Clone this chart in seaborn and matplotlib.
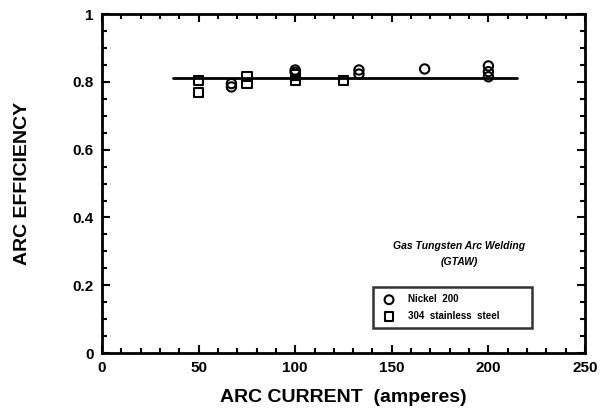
import numpy as np
import pandas as pd
import matplotlib
matplotlib.use("Agg")
import matplotlib.pyplot as plt
from matplotlib.ticker import MultipleLocator
import seaborn as sns

# data
nickel_current = [67, 67, 100, 100, 133, 133, 167, 200, 200, 200]
nickel_eff = [0.795, 0.785, 0.835, 0.828, 0.835, 0.823, 0.838, 0.847, 0.830, 0.815]
steel_current = [50, 50, 75, 75, 100, 100, 125]
steel_eff = [0.805, 0.768, 0.815, 0.795, 0.820, 0.805, 0.805]
fit_current = [37, 215]
fit_eff = [0.81, 0.81]

df = pd.DataFrame({
    "current": nickel_current + steel_current,
    "eff": nickel_eff + steel_eff,
    "material": ["Nickel  200"] * len(nickel_current) + ["304  stainless  steel"] * len(steel_current),
})
fit = pd.DataFrame({"current": fit_current, "eff": fit_eff})

sns.set_style("ticks")
plt.rcParams['font.family'] = ['Liberation Sans', 'DejaVu Sans']
plt.rcParams['font.weight'] = 'bold'
plt.rcParams['text.color'] = 'black'
plt.rcParams['axes.labelcolor'] = 'black'
plt.rcParams['xtick.color'] = 'black'
plt.rcParams['ytick.color'] = 'black'
plt.rcParams['axes.edgecolor'] = 'black'

fig = plt.figure(figsize=(6, 4.13), dpi=100)
ax = fig.add_axes([0.17, 0.145, 0.805, 0.821])

sns.lineplot(data=fit, x="current", y="eff", color="black", lw=2, ax=ax)
markers = {"Nickel  200": "o", "304  stainless  steel": "s"}
for name, mk in markers.items():
    sub = df[df.material == name]
    sns.scatterplot(data=sub, x="current", y="eff", marker=mk, s=45,
                    facecolor="none", edgecolor="black", linewidth=1.5,
                    label=name, ax=ax, zorder=3)

ax.set_xlim(0, 250)
ax.set_ylim(0, 1)
ax.xaxis.set_major_locator(MultipleLocator(50))
ax.xaxis.set_minor_locator(MultipleLocator(10))
ax.yaxis.set_major_locator(MultipleLocator(0.2))
ax.yaxis.set_minor_locator(MultipleLocator(0.05))
ax.set_yticks([0, 0.2, 0.4, 0.6, 0.8, 1.0])
ax.set_yticklabels(["0", "0.2", "0.4", "0.6", "0.8", "1"])
ax.tick_params(which="both", direction="in", top=True, right=True, width=1.5,
               labelsize=11)
ax.tick_params(which="major", length=6, pad=6)
ax.tick_params(which="minor", length=3.5)
for sp in ax.spines.values():
    sp.set_linewidth(2)
for lab in ax.get_xticklabels() + ax.get_yticklabels():
    lab.set_fontweight("bold")

ax.set_xlabel("ARC CURRENT  (amperes)", fontsize=14, fontweight="bold", labelpad=10)
ax.set_ylabel("ARC EFFICIENCY", fontsize=14, fontweight="bold", labelpad=30)

ax.text(0.74, 0.315, "Gas Tungsten Arc Welding", transform=ax.transAxes,
        ha="center", va="center", fontsize=7.5, fontstyle="italic", fontweight="bold")
ax.text(0.74, 0.27, "(GTAW)", transform=ax.transAxes,
        ha="center", va="center", fontsize=7.5, fontstyle="italic", fontweight="bold")

leg = ax.legend(loc="lower left", bbox_to_anchor=(0.55, 0.06, 0.35, 0.146),
                mode="expand", frameon=True, fancybox=False, shadow=False,
                prop={"size": 7, "weight": "bold"}, handletextpad=1.0,
                borderpad=0.7, labelspacing=0.7, markerscale=0.95)
leg.get_frame().set_edgecolor("black")
leg.get_frame().set_linewidth(1.8)

fig.savefig("out.png", dpi=100)
